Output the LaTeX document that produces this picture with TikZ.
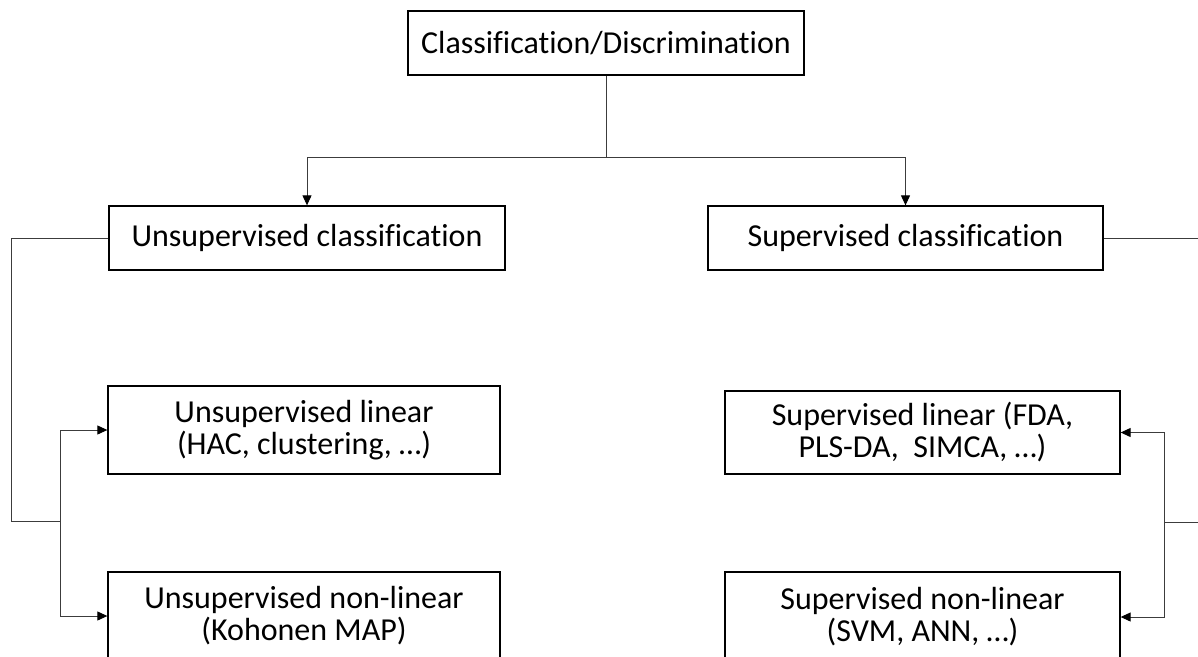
\documentclass[tikz,border=0pt]{standalone}
\usepackage{fontspec}
\setmainfont{Carlito}[Ligatures=NoCommon]
\usetikzlibrary{arrows.meta}
\tikzset{
  box/.style={draw=black, line width=1.3pt, fill=white, rectangle, inner sep=0pt,
    align=center, font=\fontsize{32pt}{32pt}\selectfont},
  link/.style={draw={rgb,255:red,60;green,60;blue,60}, line width=1pt},
  arr/.style={link, -{Triangle[length=10pt,width=9pt,color=black]}}
}
\begin{document}
\begin{tikzpicture}[x=1pt,y=1pt]
\useasboundingbox (0,0) rectangle (1198,-656);
\clip (0,0) rectangle (1198,-656);
\fill[white] (0,0) rectangle (1198,-656);

% boxes
\node[box, minimum width=396pt, minimum height=64pt] (root) at (606,-43) {Classification/Discrimination};
\node[box, minimum width=396pt, minimum height=64pt] (uc) at (307,-238) {Unsupervised classification};
\node[box, minimum width=395pt, minimum height=64pt] (sc) at (905.5,-238) {Supervised classification};
\node[box, minimum width=392pt, minimum height=88pt] (ul) at (304,-430) {Unsupervised linear\\(HAC, clustering, …)};
\node[box, minimum width=392pt, minimum height=88pt] (un) at (304,-616) {Unsupervised non-linear\\(Kohonen MAP)};
\node[box, minimum width=395pt, minimum height=83pt] (sl) at (922.5,-432.5) {Supervised linear (FDA,\\PLS-DA,\ \ SIMCA, …)};
\node[box, minimum width=395pt, minimum height=90pt] (sn) at (922.5,-617) {Supervised non-linear\\(SVM, ANN, …)};

% root to the two families
\coordinate (split) at (606,-157);
\draw[link] (root.south) -- (split);
\draw[arr] (split) -| (uc.north);
\draw[arr] (split) -| (sc.north);

% unsupervised branch
\coordinate (lc) at (11,-238);
\coordinate (ld) at (11,-521);
\coordinate (lj) at (60,-521);
\draw[link] (uc.west) -- (lc) -- (ld) -- (lj);
\draw[arr] (lj) |- (ul.west);
\draw[arr] (lj) |- (un.west);

% supervised branch
\coordinate (rout) at (1210,-238);
\coordinate (rin) at (1210,-522);
\coordinate (rj) at (1164,-522);
\draw[link] (sc.east) -- (rout);
\draw[link] (rin) -- (rj);
\draw[arr] (rj) |- (sl.east);
\draw[arr] (rj) |- (sn.east);
\end{tikzpicture}
\end{document}
